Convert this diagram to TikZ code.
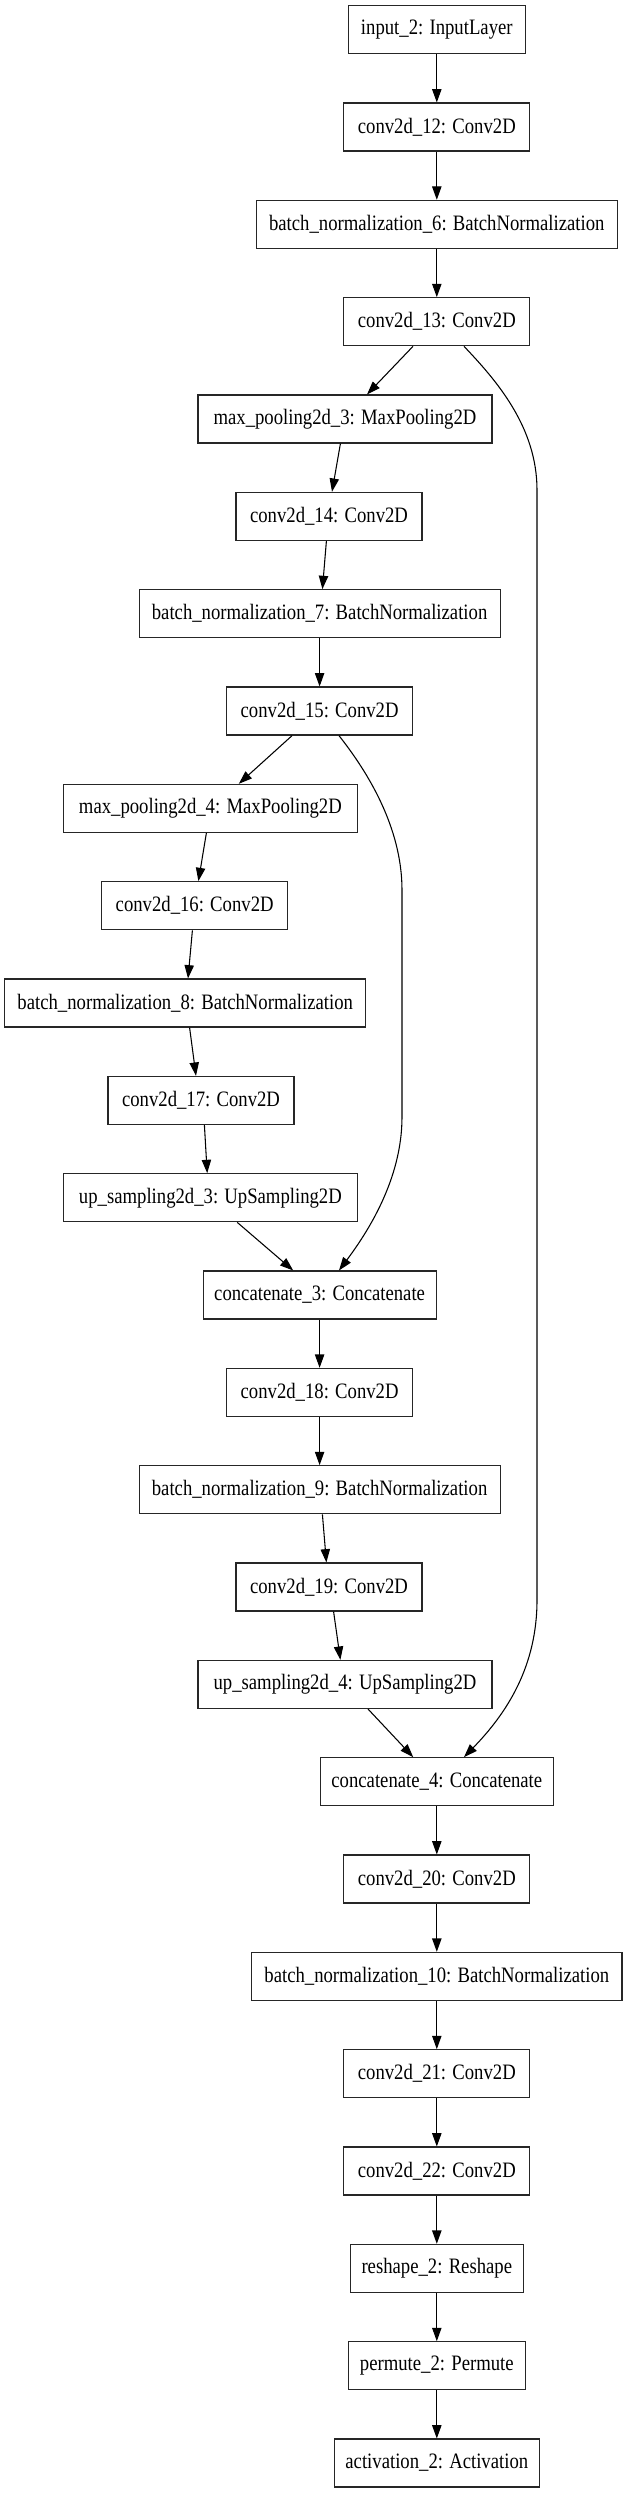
\documentclass[tikz,border=0pt]{standalone}
\usepackage{fontspec}
\setmainfont{Liberation Serif}
\newfontfamily\gvfont[FakeStretch=0.85]{Liberation Serif}
\usetikzlibrary{arrows.meta}
\begin{document}
\begin{tikzpicture}[x=1pt,y=1pt,
  box/.style={draw=black!85,line width=0.9pt,rectangle,minimum height=36pt,inner sep=0pt,
    font=\gvfont\fontsize{16.5pt}{18pt}\selectfont},
  wconv/.style={minimum width=139.5pt},
  wbn/.style={minimum width=270.75pt},
  wmp/.style={minimum width=220.5pt},
  wcat/.style={minimum width=174.75pt},
  edge/.style={draw=black,line width=0.8pt,-{Triangle[length=10pt,width=7pt]}}]
\useasboundingbox (0,0) rectangle (471.75,-1869.75);
\def\r#1{-22.3-73*#1}
\node[box,minimum width=132.75pt] (in) at (327.6,{\r0}) {input\_2: InputLayer};
\node[box,wconv] (c12) at (327.6,{\r1}) {conv2d\_12: Conv2D};
\node[box,wbn] (bn6) at (327.6,{\r2}) {batch\_normalization\_6: BatchNormalization};
\node[box,wconv] (c13) at (327.6,{\r3}) {conv2d\_13: Conv2D};
\node[box,wmp] (mp3) at (258.75,{\r4}) {max\_pooling2d\_3: MaxPooling2D};
\node[box,wconv] (c14) at (246.75,{\r5}) {conv2d\_14: Conv2D};
\node[box,wbn] (bn7) at (239.7,{\r6}) {batch\_normalization\_7: BatchNormalization};
\node[box,wconv] (c15) at (239.7,{\r7}) {conv2d\_15: Conv2D};
\node[box,wmp] (mp4) at (157.8,{\r8}) {max\_pooling2d\_4: MaxPooling2D};
\node[box,wconv] (c16) at (146,{\r9}) {conv2d\_16: Conv2D};
\node[box,wbn] (bn8) at (138.9,{\r{10}}) {batch\_normalization\_8: BatchNormalization};
\node[box,wconv] (c17) at (150.75,{\r{11}}) {conv2d\_17: Conv2D};
\node[box,wmp] (us3) at (157.8,{\r{12}}) {up\_sampling2d\_3: UpSampling2D};
\node[box,wcat] (cat3) at (239.7,{\r{13}}) {concatenate\_3: Concatenate};
\node[box,wconv] (c18) at (239.7,{\r{14}}) {conv2d\_18: Conv2D};
\node[box,wbn] (bn9) at (239.7,{\r{15}}) {batch\_normalization\_9: BatchNormalization};
\node[box,wconv] (c19) at (246.75,{\r{16}}) {conv2d\_19: Conv2D};
\node[box,wmp] (us4) at (258.75,{\r{17}}) {up\_sampling2d\_4: UpSampling2D};
\node[box,wcat] (cat4) at (327.6,{\r{18}}) {concatenate\_4: Concatenate};
\node[box,wconv] (c20) at (327.6,{\r{19}}) {conv2d\_20: Conv2D};
\node[box,minimum width=277.8pt] (bn10) at (327.6,{\r{20}}) {batch\_normalization\_10: BatchNormalization};
\node[box,wconv] (c21) at (327.6,{\r{21}}) {conv2d\_21: Conv2D};
\node[box,wconv] (c22) at (327.6,{\r{22}}) {conv2d\_22: Conv2D};
\node[box,minimum width=129.75pt] (rs) at (327.6,{\r{23}}) {reshape\_2: Reshape};
\node[box,minimum width=132.75pt] (pm) at (327.6,{\r{24}}) {permute\_2: Permute};
\node[box,minimum width=153.75pt] (act) at (327.6,{\r{25}}) {activation\_2: Activation};
% straight edges
\draw[edge] (in.south) -- (c12.north);
\draw[edge] (c12.south) -- (bn6.north);
\draw[edge] (bn6.south) -- (c13.north);
\draw[edge] ([xshift=-17.85pt]c13.south) -- ([xshift=16.5pt]mp3.north);
\draw[edge] ([xshift=-3.45pt]mp3.south) -- ([xshift=2.25pt]c14.north);
\draw[edge] ([xshift=-1.95pt]c14.south) -- ([xshift=2.1pt]bn7.north);
\draw[edge] (bn7.south) -- (c15.north);
\draw[edge] ([xshift=-20.7pt]c15.south) -- ([xshift=21.3pt]mp4.north);
\draw[edge] ([xshift=-3pt]mp4.south) -- ([xshift=2.8pt]c16.north);
\draw[edge] ([xshift=-1.7pt]c16.south) -- ([xshift=2.1pt]bn8.north);
\draw[edge] ([xshift=3.3pt]bn8.south) -- ([xshift=-3.75pt]c17.north);
\draw[edge] ([xshift=2.55pt]c17.south) -- ([xshift=-2.4pt]us3.north);
\draw[edge] ([xshift=20.1pt]us3.south) -- ([xshift=-19.8pt]cat3.north);
\draw[edge] (cat3.south) -- (c18.north);
\draw[edge] (c18.south) -- (bn9.north);
\draw[edge] ([xshift=2.1pt]bn9.south) -- ([xshift=-1.95pt]c19.north);
\draw[edge] ([xshift=3.45pt]c19.south) -- ([xshift=-3.45pt]us4.north);
\draw[edge] ([xshift=17.25pt]us4.south) -- ([xshift=-17.7pt]cat4.north);
\draw[edge] (cat4.south) -- (c20.north);
\draw[edge] (c20.south) -- (bn10.north);
\draw[edge] (bn10.south) -- (c21.north);
\draw[edge] (c21.south) -- (c22.north);
\draw[edge] (c22.south) -- (rs.north);
\draw[edge] (rs.south) -- (pm.north);
\draw[edge] (pm.south) -- (act.north);
% skip connections
\coordinate (s1a) at (402.75,-367.5);
\coordinate (s1b) at (402.75,-1200);
\draw[edge] ([xshift=20.4pt]c13.south) .. controls (372,-285) and (402.75,-320) .. (s1a)
  -- (s1b) .. controls (402.75,-1250) and (380,-1285) .. ([xshift=20.4pt]cat4.north);
\coordinate (s2a) at (301.5,-667.5);
\coordinate (s2b) at (301.5,-837.75);
\draw[edge] ([xshift=14.55pt]c15.south) .. controls (275,-578) and (301.5,-620) .. (s2a)
  -- (s2b) .. controls (301.5,-885) and (275,-925) .. ([xshift=14.55pt]cat3.north);
\end{tikzpicture}
\end{document}
